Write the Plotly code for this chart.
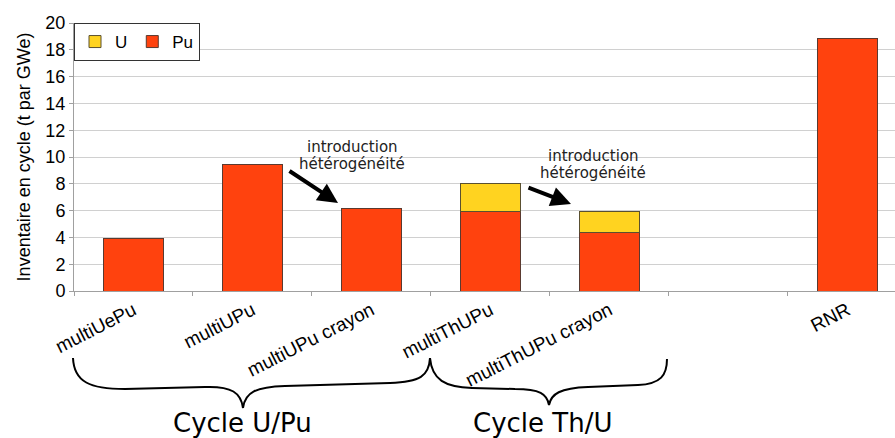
import plotly.graph_objects as go

categories = ["multiUePu", "multiUPu", "multiUPu crayon", "multiThUPu",
              "multiThUPu crayon", " ", "RNR"]
pu_values = [3.95, 9.42, 6.13, 5.9, 4.38, None, 18.83]
u_values = [None, None, None, 2.16, 1.57, None, None]
y_ticks = [0, 2, 4, 6, 8, 10, 12, 14, 16, 18, 20]

W, H = 895, 438
L, R, T, B = 74, 0, 23, 147
PW, PH = W - L - R, H - T - B


def px(x):
    return (x - L) / PW


def py(y):
    return (H - B - y) / PH


def path(points):
    out = []
    for cmd, pts in points:
        coords = " ".join(f"{px(a):.5f},{py(b):.5f}" for a, b in pts)
        out.append(f"{cmd} {coords}")
    return " ".join(out)


fig = go.Figure()
fig.add_trace(go.Bar(name="Pu", x=categories, y=pu_values,
                     marker=dict(color="#ff420e", line=dict(color="#5a3a30", width=1))))
fig.add_trace(go.Bar(name="U", x=categories, y=u_values,
                     marker=dict(color="#ffd320", line=dict(color="#5a5030", width=1))))

brace1 = path([
    ("M", [(73, 358)]),
    ("C", [(74, 382), (90, 389), (125, 389)]),
    ("L", [(205, 387)]),
    ("C", [(232, 386), (241, 393), (243, 408)]),
    ("C", [(245, 392), (256, 387), (285, 386)]),
    ("L", [(390, 383)]),
    ("C", [(420, 382), (429, 376), (430, 358)]),
])
brace2 = path([
    ("M", [(430, 358)]),
    ("C", [(432, 380), (445, 387), (472, 388)]),
    ("L", [(515, 389)]),
    ("C", [(540, 389), (547, 394), (549, 405)]),
    ("C", [(551, 394), (560, 388), (588, 387)]),
    ("L", [(638, 385)]),
    ("C", [(661, 384), (667, 375), (667, 359)]),
])

shapes = [
    dict(type="path", xref="paper", yref="paper", path=brace1,
         line=dict(color="black", width=2)),
    dict(type="path", xref="paper", yref="paper", path=brace2,
         line=dict(color="black", width=2)),
]

ann_font = dict(family="DejaVu Sans", size=15, color="#222")
annotations = [
    dict(x=px(352), y=py(147), xref="paper", yref="paper", text="introduction",
         showarrow=False, font=ann_font, xanchor="center", yanchor="middle"),
    dict(x=px(352), y=py(164), xref="paper", yref="paper", text="hétérogénéité",
         showarrow=False, font=ann_font, xanchor="center", yanchor="middle"),
    dict(x=px(593), y=py(156), xref="paper", yref="paper", text="introduction",
         showarrow=False, font=ann_font, xanchor="center", yanchor="middle"),
    dict(x=px(593), y=py(173), xref="paper", yref="paper", text="hétérogénéité",
         showarrow=False, font=ann_font, xanchor="center", yanchor="middle"),
    dict(x=px(338), y=py(203), xref="paper", yref="paper", text="",
         showarrow=True, ax=-50, ay=-33, arrowhead=2, arrowsize=1,
         arrowwidth=4, arrowcolor="black"),
    dict(x=px(571), y=py(204), xref="paper", yref="paper", text="",
         showarrow=True, ax=-44, ay=-17, arrowhead=2, arrowsize=1,
         arrowwidth=4, arrowcolor="black"),
    dict(x=px(242), y=py(423), xref="paper", yref="paper", text="Cycle U/Pu",
         showarrow=False, font=dict(family="DejaVu Sans", size=26, color="black"),
         xanchor="center", yanchor="middle"),
    dict(x=px(542), y=py(423), xref="paper", yref="paper", text="Cycle Th/U",
         showarrow=False, font=dict(family="DejaVu Sans", size=26, color="black"),
         xanchor="center", yanchor="middle"),
]

fig.update_layout(
    width=W, height=H,
    margin=dict(l=L, r=R, t=T, b=B, autoexpand=False),
    barmode="stack", bargap=0.5,
    plot_bgcolor="white", paper_bgcolor="white",
    font=dict(family="Liberation Sans", size=18, color="black"),
    shapes=shapes, annotations=annotations,
    legend=dict(orientation="h", x=0, y=1, xanchor="left", yanchor="top",
                traceorder="reversed", bordercolor="#333", borderwidth=1,
                bgcolor="white", font=dict(size=17), itemwidth=30),
    xaxis=dict(type="category", categoryorder="array", categoryarray=categories,
               range=[-0.5, 6.4], tickangle=-27,
               tickfont=dict(size=19, family="Liberation Sans"),
               showline=True, linecolor="#a0a0a0", linewidth=1,
               ticks="outside", tickson="boundaries", ticklen=4, tickcolor="#a0a0a0",
               showgrid=False, automargin=False),
    yaxis=dict(range=[0, 20], tickvals=y_ticks, showline=True, linecolor="#a0a0a0",
               ticks="outside", ticklen=4, tickcolor="#a0a0a0",
               gridcolor="#d0d0d0", gridwidth=1, zeroline=False,
               tickfont=dict(size=18),
               title=dict(text="Inventaire en cycle (t par GWe)", font=dict(size=18),
                          standoff=10),
               automargin=False),
)

fig.write_html("out.html", config={"displayModeBar": False},
               post_script="document.body.style.margin='0';document.body.style.overflow='hidden';")
